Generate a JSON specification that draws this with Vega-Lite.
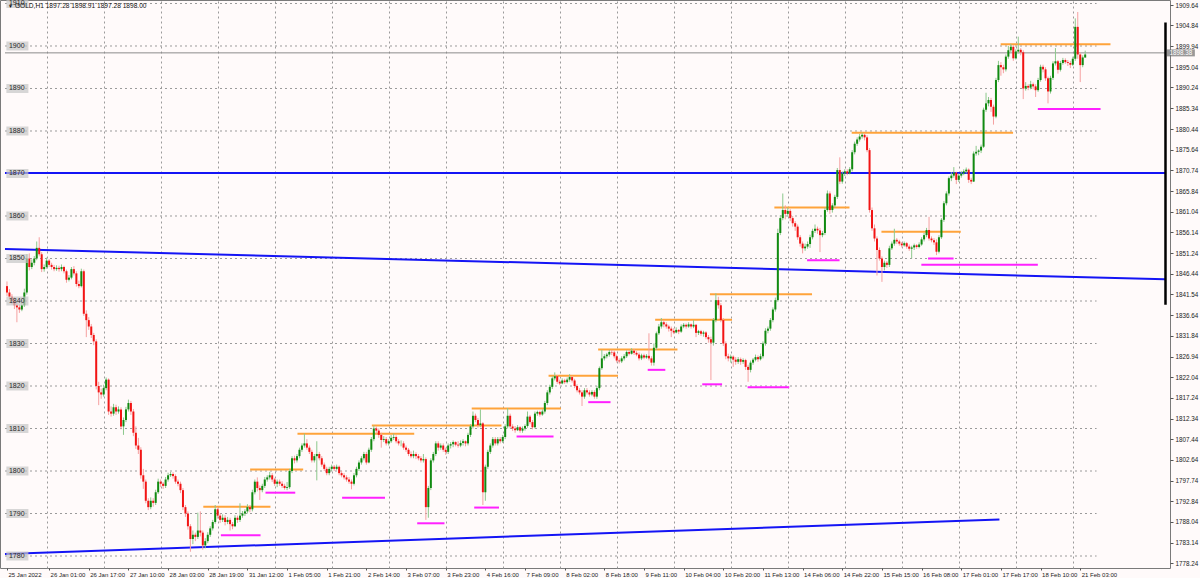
{
"$schema":"https://vega.github.io/schema/vega-lite/v6.json",
"width":1170,"height":568,
"autosize":{"type":"none"},
"padding":{"left":0,"top":0,"right":30,"bottom":10},
"background":"#fffafa",
"config":{"view":{"stroke":"#7a7a7a","strokeWidth":1},"font":"Liberation Sans"},
"resolve":{"axis":{"x":"independent","y":"independent"}},
"datasets":{
"levels":[{"v":1780},{"v":1790},{"v":1800},{"v":1810},{"v":1820},{"v":1830},{"v":1840},{"v":1850},{"v":1860},{"v":1870},{"v":1880},{"v":1890},{"v":1900},{"v":1910}],
"lines":[{"x1":-0.8,"y1":1852.25,"x2":467.2,"y2":1845.1},{"x1":-0.8,"y1":1780.45,"x2":400.4,"y2":1788.6},{"x1":-0.8,"y1":1870.1,"x2":467.2,"y2":1870.1}],
"segs":[
{"k":"res","x1":79.2,"x2":106.3,"p":1791.6},{"k":"res","x1":98.1,"x2":119.5,"p":1800.35},{"k":"res","x1":117.2,"x2":164.3,"p":1808.75},{"k":"res","x1":147.2,"x2":199.5,"p":1810.7},{"k":"res","x1":187.5,"x2":223.5,"p":1814.7},{"k":"res","x1":218.5,"x2":246.5,"p":1822.4},{"k":"res","x1":238.5,"x2":270.5,"p":1828.6},{"k":"res","x1":261.5,"x2":292.5,"p":1835.6},{"k":"res","x1":283.6,"x2":324.8,"p":1841.6},{"k":"res","x1":309.6,"x2":339.9,"p":1862.0},{"k":"res","x1":340.8,"x2":405.9,"p":1879.6},{"k":"res","x1":352.8,"x2":384.8,"p":1856.3},{"k":"res","x1":400.9,"x2":445.2,"p":1900.4},
{"k":"sup","x1":86.3,"x2":102.3,"p":1784.9},{"k":"sup","x1":104.3,"x2":116.3,"p":1794.9},{"k":"sup","x1":135.2,"x2":152.5,"p":1793.7},{"k":"sup","x1":165.5,"x2":176.5,"p":1787.7},{"k":"sup","x1":188.5,"x2":198.5,"p":1791.4},{"k":"sup","x1":205.6,"x2":220.5,"p":1808.1},{"k":"sup","x1":234.5,"x2":243.5,"p":1816.2},{"k":"sup","x1":258.5,"x2":265.6,"p":1823.8},{"k":"sup","x1":280.5,"x2":288.5,"p":1820.4},{"k":"sup","x1":298.8,"x2":315.6,"p":1819.7},{"k":"sup","x1":322.8,"x2":335.9,"p":1849.6},{"k":"sup","x1":371.6,"x2":381.9,"p":1850.0},{"k":"sup","x1":368.9,"x2":415.9,"p":1848.5},{"k":"sup","x1":415.9,"x2":441.2,"p":1885.2}],
"bars":[
{"i":0,"o":1843.5,"h":1844.6,"l":1841.2,"c":1842},{"i":1,"o":1842,"h":1842.8,"l":1840.5,"c":1841},{"i":2,"o":1841,"h":1841.6,"l":1839.2,"c":1840},{"i":3,"o":1840,"h":1840.9,"l":1838.1,"c":1839},{"i":4,"o":1839,"h":1839.8,"l":1835,"c":1838.5},{"i":5,"o":1838.5,"h":1839.2,"l":1837.2,"c":1838},{"i":6,"o":1838,"h":1840.2,"l":1837.6,"c":1839},{"i":7,"o":1839,"h":1842.9,"l":1838.6,"c":1842},{"i":8,"o":1842,"h":1851,"l":1841.5,"c":1850},{"i":9,"o":1850,"h":1851.2,"l":1847.2,"c":1848},
{"i":10,"o":1848,"h":1849.8,"l":1847.5,"c":1849},{"i":11,"o":1849,"h":1850.6,"l":1848.4,"c":1850},{"i":12,"o":1850,"h":1854,"l":1849.6,"c":1852.5},{"i":13,"o":1852.5,"h":1855,"l":1850.5,"c":1851},{"i":14,"o":1851,"h":1851.5,"l":1846.8,"c":1847.5},{"i":15,"o":1847.5,"h":1848.6,"l":1846.9,"c":1848},{"i":16,"o":1848,"h":1850.2,"l":1847.6,"c":1849.5},{"i":17,"o":1849.5,"h":1849.9,"l":1848,"c":1848.5},{"i":18,"o":1848.5,"h":1849,"l":1847.4,"c":1848},{"i":19,"o":1848,"h":1848.5,"l":1847,"c":1847.5},
{"i":20,"o":1847.5,"h":1848.4,"l":1847.1,"c":1847.8},{"i":21,"o":1847.8,"h":1848.3,"l":1846.9,"c":1847.5},{"i":22,"o":1847.5,"h":1848.6,"l":1847,"c":1848},{"i":23,"o":1848,"h":1848.3,"l":1846.5,"c":1847},{"i":24,"o":1847,"h":1847.4,"l":1844.3,"c":1845},{"i":25,"o":1845,"h":1846.1,"l":1844.6,"c":1845.5},{"i":26,"o":1845.5,"h":1848,"l":1845.1,"c":1847.5},{"i":27,"o":1847.5,"h":1848.2,"l":1846,"c":1846.5},{"i":28,"o":1846.5,"h":1847,"l":1843.4,"c":1844},{"i":29,"o":1844,"h":1844.8,"l":1843,"c":1843.5},
{"i":30,"o":1843.5,"h":1847.6,"l":1843.2,"c":1847},{"i":31,"o":1847,"h":1847.4,"l":1836.5,"c":1837},{"i":32,"o":1837,"h":1837.8,"l":1831.5,"c":1835.5},{"i":33,"o":1835.5,"h":1836.2,"l":1833.2,"c":1834},{"i":34,"o":1834,"h":1834.6,"l":1831.3,"c":1832},{"i":35,"o":1832,"h":1832.5,"l":1829.6,"c":1830.5},{"i":36,"o":1830.5,"h":1831,"l":1819.2,"c":1820},{"i":37,"o":1820,"h":1821,"l":1815.5,"c":1818.5},{"i":38,"o":1818.5,"h":1819.4,"l":1817,"c":1818},{"i":39,"o":1818,"h":1820.3,"l":1817.5,"c":1819.5},
{"i":40,"o":1819.5,"h":1822,"l":1819,"c":1821.5},{"i":41,"o":1821.5,"h":1821.8,"l":1813.2,"c":1814},{"i":42,"o":1814,"h":1815.2,"l":1812.8,"c":1813.5},{"i":43,"o":1813.5,"h":1815.8,"l":1813,"c":1815},{"i":44,"o":1815,"h":1815.6,"l":1813.2,"c":1814},{"i":45,"o":1814,"h":1815.2,"l":1813.5,"c":1814.5},{"i":46,"o":1814.5,"h":1815,"l":1809.8,"c":1810.5},{"i":47,"o":1810.5,"h":1812.6,"l":1808.5,"c":1812},{"i":48,"o":1812,"h":1815.1,"l":1811.5,"c":1814.5},{"i":49,"o":1814.5,"h":1816.8,"l":1814,"c":1816},
{"i":50,"o":1816,"h":1816.5,"l":1813.2,"c":1814},{"i":51,"o":1814,"h":1814.6,"l":1808.2,"c":1809},{"i":52,"o":1809,"h":1810.5,"l":1805.2,"c":1806},{"i":53,"o":1806,"h":1807.8,"l":1804,"c":1805},{"i":54,"o":1805,"h":1805.6,"l":1798.2,"c":1799},{"i":55,"o":1799,"h":1800.5,"l":1795.8,"c":1797.5},{"i":56,"o":1797.5,"h":1798,"l":1792.4,"c":1793},{"i":57,"o":1793,"h":1793.6,"l":1790.8,"c":1791.5},{"i":58,"o":1791.5,"h":1793.8,"l":1791,"c":1793},{"i":59,"o":1793,"h":1793.6,"l":1791.6,"c":1792.5},
{"i":60,"o":1792.5,"h":1795.6,"l":1792,"c":1795},{"i":61,"o":1795,"h":1798.2,"l":1794.6,"c":1797.5},{"i":62,"o":1797.5,"h":1798,"l":1796.2,"c":1797},{"i":63,"o":1797,"h":1797.4,"l":1795.8,"c":1796.5},{"i":64,"o":1796.5,"h":1798.6,"l":1796,"c":1798},{"i":65,"o":1798,"h":1799.6,"l":1797.5,"c":1799},{"i":66,"o":1799,"h":1799.8,"l":1798.6,"c":1799.3},{"i":67,"o":1799.3,"h":1799.7,"l":1798.2,"c":1798.8},{"i":68,"o":1798.8,"h":1799.2,"l":1797,"c":1797.5},{"i":69,"o":1797.5,"h":1798,"l":1796.4,"c":1797},
{"i":70,"o":1797,"h":1797.5,"l":1794.8,"c":1795.5},{"i":71,"o":1795.5,"h":1796,"l":1790.8,"c":1791.5},{"i":72,"o":1791.5,"h":1792,"l":1789.2,"c":1790},{"i":73,"o":1790,"h":1790.5,"l":1786.2,"c":1787},{"i":74,"o":1787,"h":1787.5,"l":1781,"c":1784},{"i":75,"o":1784,"h":1786,"l":1782.8,"c":1785},{"i":76,"o":1785,"h":1785.5,"l":1783.5,"c":1784.5},{"i":77,"o":1784.5,"h":1790.2,"l":1784,"c":1786},{"i":78,"o":1786,"h":1790.5,"l":1784.6,"c":1785.5},{"i":79,"o":1785.5,"h":1786,"l":1781.5,"c":1782.5},
{"i":80,"o":1782.5,"h":1784.2,"l":1781.8,"c":1783.5},{"i":81,"o":1783.5,"h":1785.6,"l":1783,"c":1785},{"i":82,"o":1785,"h":1787,"l":1784.5,"c":1786.5},{"i":83,"o":1786.5,"h":1788.5,"l":1786,"c":1788},{"i":84,"o":1788,"h":1792,"l":1787.6,"c":1791},{"i":85,"o":1791,"h":1791.5,"l":1788.8,"c":1789.5},{"i":86,"o":1789.5,"h":1790,"l":1787.8,"c":1788.5},{"i":87,"o":1788.5,"h":1789.8,"l":1788,"c":1789},{"i":88,"o":1789,"h":1789.6,"l":1787.2,"c":1788},{"i":89,"o":1788,"h":1789.2,"l":1787.5,"c":1788.5},
{"i":90,"o":1788.5,"h":1789,"l":1786,"c":1787.5},{"i":91,"o":1787.5,"h":1788,"l":1786.3,"c":1787},{"i":92,"o":1787,"h":1789.6,"l":1786.8,"c":1789},{"i":93,"o":1789,"h":1789.5,"l":1787.8,"c":1788.5},{"i":94,"o":1788.5,"h":1792.4,"l":1788,"c":1789.5},{"i":95,"o":1789.5,"h":1790.6,"l":1789,"c":1790},{"i":96,"o":1790,"h":1791,"l":1789.4,"c":1790.5},{"i":97,"o":1790.5,"h":1792.2,"l":1790,"c":1791.5},{"i":98,"o":1791.5,"h":1792,"l":1790.3,"c":1791},{"i":99,"o":1791,"h":1795.6,"l":1790.5,"c":1795},
{"i":100,"o":1795,"h":1798,"l":1794.5,"c":1797.5},{"i":101,"o":1797.5,"h":1798.5,"l":1795.2,"c":1796},{"i":102,"o":1796,"h":1796.6,"l":1793.2,"c":1795.5},{"i":103,"o":1795.5,"h":1797,"l":1795,"c":1796.5},{"i":104,"o":1796.5,"h":1798.6,"l":1796,"c":1798},{"i":105,"o":1798,"h":1799,"l":1797.5,"c":1798.5},{"i":106,"o":1798.5,"h":1799.8,"l":1798,"c":1799},{"i":107,"o":1799,"h":1799.5,"l":1797.4,"c":1798},{"i":108,"o":1798,"h":1798.4,"l":1796.5,"c":1797},{"i":109,"o":1797,"h":1798,"l":1796.2,"c":1797.5},
{"i":110,"o":1797.5,"h":1798,"l":1796.5,"c":1797},{"i":111,"o":1797,"h":1797.6,"l":1796,"c":1796.5},{"i":112,"o":1796.5,"h":1797,"l":1795.6,"c":1796},{"i":113,"o":1796,"h":1797.4,"l":1795.5,"c":1796.2},{"i":114,"o":1796.2,"h":1800.5,"l":1795.8,"c":1800},{"i":115,"o":1800,"h":1803.5,"l":1799.5,"c":1803},{"i":116,"o":1803,"h":1803.6,"l":1801.8,"c":1802.5},{"i":117,"o":1802.5,"h":1804,"l":1802,"c":1803.5},{"i":118,"o":1803.5,"h":1805.5,"l":1803,"c":1805},{"i":119,"o":1805,"h":1806.5,"l":1804.5,"c":1806},
{"i":120,"o":1806,"h":1808.8,"l":1805.5,"c":1806.5},{"i":121,"o":1806.5,"h":1807.5,"l":1805,"c":1805.5},{"i":122,"o":1805.5,"h":1806,"l":1804,"c":1804.5},{"i":123,"o":1804.5,"h":1805,"l":1802,"c":1802.5},{"i":124,"o":1802.5,"h":1804,"l":1802,"c":1803.5},{"i":125,"o":1803.5,"h":1807,"l":1797.8,"c":1804},{"i":126,"o":1804,"h":1804.5,"l":1802.5,"c":1803},{"i":127,"o":1803,"h":1803.5,"l":1801,"c":1801.5},{"i":128,"o":1801.5,"h":1802,"l":1800,"c":1800.5},{"i":129,"o":1800.5,"h":1801,"l":1799,"c":1799.5},
{"i":130,"o":1799.5,"h":1801,"l":1799,"c":1800.5},{"i":131,"o":1800.5,"h":1801.5,"l":1800,"c":1801},{"i":132,"o":1801,"h":1801.4,"l":1800,"c":1800.5},{"i":133,"o":1800.5,"h":1801.5,"l":1800.2,"c":1801},{"i":134,"o":1801,"h":1801.3,"l":1799,"c":1799.5},{"i":135,"o":1799.5,"h":1800,"l":1798.5,"c":1799},{"i":136,"o":1799,"h":1799.5,"l":1798,"c":1798.5},{"i":137,"o":1798.5,"h":1799,"l":1797.5,"c":1798},{"i":138,"o":1798,"h":1798.6,"l":1797,"c":1797.5},{"i":139,"o":1797.5,"h":1798,"l":1795.7,"c":1797},
{"i":140,"o":1797,"h":1799.5,"l":1796.6,"c":1799},{"i":141,"o":1799,"h":1801,"l":1798.5,"c":1800.5},{"i":142,"o":1800.5,"h":1802.5,"l":1800,"c":1802},{"i":143,"o":1802,"h":1803.5,"l":1801.5,"c":1803},{"i":144,"o":1803,"h":1804.5,"l":1802.5,"c":1804},{"i":145,"o":1804,"h":1804.5,"l":1801.5,"c":1802},{"i":146,"o":1802,"h":1805.5,"l":1801.8,"c":1805},{"i":147,"o":1805,"h":1808,"l":1804.5,"c":1807.5},{"i":148,"o":1807.5,"h":1810.7,"l":1807,"c":1810},{"i":149,"o":1810,"h":1810.5,"l":1808.8,"c":1809.5},
{"i":150,"o":1809.5,"h":1810,"l":1807.8,"c":1808.5},{"i":151,"o":1808.5,"h":1809,"l":1805.5,"c":1807.3},{"i":152,"o":1807.3,"h":1808.2,"l":1806.8,"c":1807.5},{"i":153,"o":1807.5,"h":1808,"l":1806,"c":1806.5},{"i":154,"o":1806.5,"h":1807.5,"l":1806,"c":1807},{"i":155,"o":1807,"h":1808.5,"l":1806.6,"c":1807.8},{"i":156,"o":1807.8,"h":1808.8,"l":1807.3,"c":1808},{"i":157,"o":1808,"h":1808.4,"l":1806.5,"c":1807},{"i":158,"o":1807,"h":1807.5,"l":1806,"c":1806.5},{"i":159,"o":1806.5,"h":1807.2,"l":1805.8,"c":1806.5},
{"i":160,"o":1806.5,"h":1807,"l":1805,"c":1805.5},{"i":161,"o":1805.5,"h":1806,"l":1804.5,"c":1805},{"i":162,"o":1805,"h":1805.4,"l":1803.5,"c":1804},{"i":163,"o":1804,"h":1804.6,"l":1803,"c":1803.5},{"i":164,"o":1803.5,"h":1804.8,"l":1803,"c":1804},{"i":165,"o":1804,"h":1804.4,"l":1802.8,"c":1803.5},{"i":166,"o":1803.5,"h":1804,"l":1802.5,"c":1803},{"i":167,"o":1803,"h":1803.5,"l":1802,"c":1802.5},{"i":168,"o":1802.5,"h":1804,"l":1802,"c":1802.8},{"i":169,"o":1802.8,"h":1803.2,"l":1788.5,"c":1791.5},
{"i":170,"o":1791.5,"h":1796.5,"l":1789,"c":1796},{"i":171,"o":1796,"h":1803,"l":1795.5,"c":1802.5},{"i":172,"o":1802.5,"h":1804.5,"l":1802,"c":1804},{"i":173,"o":1804,"h":1807,"l":1803.5,"c":1806.5},{"i":174,"o":1806.5,"h":1807,"l":1804.8,"c":1805.5},{"i":175,"o":1805.5,"h":1806.5,"l":1805,"c":1806},{"i":176,"o":1806,"h":1806.5,"l":1804.5,"c":1805},{"i":177,"o":1805,"h":1805.5,"l":1803.8,"c":1804.5},{"i":178,"o":1804.5,"h":1806.5,"l":1804,"c":1806},{"i":179,"o":1806,"h":1806.8,"l":1805.3,"c":1806.3},
{"i":180,"o":1806.3,"h":1807.2,"l":1805.6,"c":1806.8},{"i":181,"o":1806.8,"h":1807,"l":1805.8,"c":1806.2},{"i":182,"o":1806.2,"h":1807,"l":1805.5,"c":1806},{"i":183,"o":1806,"h":1807.2,"l":1805.6,"c":1806.6},{"i":184,"o":1806.6,"h":1807.5,"l":1806,"c":1807},{"i":185,"o":1807,"h":1807.2,"l":1805.8,"c":1806.5},{"i":186,"o":1806.5,"h":1809,"l":1806,"c":1808.5},{"i":187,"o":1808.5,"h":1811,"l":1808,"c":1810.5},{"i":188,"o":1810.5,"h":1814,"l":1810,"c":1813},{"i":189,"o":1813,"h":1813.5,"l":1811.5,"c":1812},
{"i":190,"o":1812,"h":1812.5,"l":1810.2,"c":1810.8},{"i":191,"o":1810.8,"h":1814.5,"l":1810.3,"c":1811.2},{"i":192,"o":1811.2,"h":1811.5,"l":1792,"c":1795},{"i":193,"o":1795,"h":1801.5,"l":1793,"c":1801},{"i":194,"o":1801,"h":1805,"l":1800.5,"c":1804.5},{"i":195,"o":1804.5,"h":1806.5,"l":1804,"c":1806},{"i":196,"o":1806,"h":1808,"l":1805.5,"c":1807.5},{"i":197,"o":1807.5,"h":1808,"l":1806,"c":1806.5},{"i":198,"o":1806.5,"h":1808,"l":1806,"c":1807.5},{"i":199,"o":1807.5,"h":1808,"l":1806.5,"c":1807},
{"i":200,"o":1807,"h":1808.5,"l":1806.6,"c":1808},{"i":201,"o":1808,"h":1811,"l":1807.5,"c":1810.5},{"i":202,"o":1810.5,"h":1814.8,"l":1810,"c":1813},{"i":203,"o":1813,"h":1813.5,"l":1810,"c":1810.5},{"i":204,"o":1810.5,"h":1811,"l":1809.4,"c":1810},{"i":205,"o":1810,"h":1810.6,"l":1809,"c":1809.6},{"i":206,"o":1809.6,"h":1810.8,"l":1809.4,"c":1810.3},{"i":207,"o":1810.3,"h":1810.6,"l":1809,"c":1809.5},{"i":208,"o":1809.5,"h":1810.5,"l":1809,"c":1810},{"i":209,"o":1810,"h":1811,"l":1809.5,"c":1810.6},
{"i":210,"o":1810.6,"h":1814,"l":1810.2,"c":1812.8},{"i":211,"o":1812.8,"h":1813.2,"l":1811,"c":1811.5},{"i":212,"o":1811.5,"h":1812,"l":1809.8,"c":1810.3},{"i":213,"o":1810.3,"h":1814,"l":1810,"c":1813.5},{"i":214,"o":1813.5,"h":1814.2,"l":1813,"c":1813.9},{"i":215,"o":1813.9,"h":1814.2,"l":1812.8,"c":1813.3},{"i":216,"o":1813.3,"h":1814.5,"l":1813,"c":1814},{"i":217,"o":1814,"h":1816.5,"l":1813.5,"c":1816},{"i":218,"o":1816,"h":1819,"l":1815.5,"c":1818.5},{"i":219,"o":1818.5,"h":1820.3,"l":1818,"c":1819.8},
{"i":220,"o":1819.8,"h":1822.3,"l":1819.3,"c":1821.8},{"i":221,"o":1821.8,"h":1823.2,"l":1821.3,"c":1822.3},{"i":222,"o":1822.3,"h":1822.6,"l":1820.5,"c":1821},{"i":223,"o":1821,"h":1821.5,"l":1820.2,"c":1820.6},{"i":224,"o":1820.6,"h":1821.8,"l":1820.4,"c":1821.3},{"i":225,"o":1821.3,"h":1821.7,"l":1820.5,"c":1820.9},{"i":226,"o":1820.9,"h":1822,"l":1820.6,"c":1821.5},{"i":227,"o":1821.5,"h":1822.8,"l":1821,"c":1822.1},{"i":228,"o":1822.1,"h":1822.4,"l":1820.8,"c":1821.3},{"i":229,"o":1821.3,"h":1821.7,"l":1819.5,"c":1820},
{"i":230,"o":1820,"h":1820.4,"l":1818.5,"c":1819},{"i":231,"o":1819,"h":1819.5,"l":1818,"c":1818.5},{"i":232,"o":1818.5,"h":1819,"l":1815.3,"c":1817.5},{"i":233,"o":1817.5,"h":1819.5,"l":1817,"c":1819},{"i":234,"o":1819,"h":1819.5,"l":1818,"c":1818.5},{"i":235,"o":1818.5,"h":1819,"l":1817.5,"c":1818},{"i":236,"o":1818,"h":1819,"l":1817.6,"c":1818.6},{"i":237,"o":1818.6,"h":1819,"l":1817,"c":1817.5},{"i":238,"o":1817.5,"h":1820,"l":1817,"c":1819.5},{"i":239,"o":1819.5,"h":1824.6,"l":1819,"c":1824.2},
{"i":240,"o":1824.2,"h":1828.5,"l":1823.8,"c":1826.5},{"i":241,"o":1826.5,"h":1827.5,"l":1826,"c":1827},{"i":242,"o":1827,"h":1827.8,"l":1826.5,"c":1827.4},{"i":243,"o":1827.4,"h":1828.5,"l":1826.9,"c":1828},{"i":244,"o":1828,"h":1828.5,"l":1827.3,"c":1827.9},{"i":245,"o":1827.9,"h":1828.3,"l":1826.5,"c":1827},{"i":246,"o":1827,"h":1827.4,"l":1825.5,"c":1826},{"i":247,"o":1826,"h":1826.5,"l":1825.3,"c":1825.8},{"i":248,"o":1825.8,"h":1827,"l":1825.4,"c":1826.5},{"i":249,"o":1826.5,"h":1827.5,"l":1826,"c":1827},
{"i":250,"o":1827,"h":1828.4,"l":1826.6,"c":1828},{"i":251,"o":1828,"h":1828.5,"l":1827.2,"c":1827.6},{"i":252,"o":1827.6,"h":1828.9,"l":1827.4,"c":1828.3},{"i":253,"o":1828.3,"h":1828.7,"l":1827.3,"c":1827.8},{"i":254,"o":1827.8,"h":1828.2,"l":1827,"c":1827.4},{"i":255,"o":1827.4,"h":1827.9,"l":1826,"c":1826.5},{"i":256,"o":1826.5,"h":1827.6,"l":1826.1,"c":1827.2},{"i":257,"o":1827.2,"h":1827.6,"l":1826.3,"c":1826.7},{"i":258,"o":1826.7,"h":1827.5,"l":1826.4,"c":1827.1},{"i":259,"o":1827.1,"h":1832.4,"l":1826,"c":1826.5},
{"i":260,"o":1826.5,"h":1827,"l":1824.8,"c":1825.5},{"i":261,"o":1825.5,"h":1830,"l":1824.8,"c":1829},{"i":262,"o":1829,"h":1832.8,"l":1828.5,"c":1832.4},{"i":263,"o":1832.4,"h":1834.6,"l":1832,"c":1834},{"i":264,"o":1834,"h":1836,"l":1833.5,"c":1835},{"i":265,"o":1835,"h":1835.5,"l":1833.8,"c":1834.5},{"i":266,"o":1834.5,"h":1835,"l":1833.5,"c":1834},{"i":267,"o":1834,"h":1834.4,"l":1832.8,"c":1833.5},{"i":268,"o":1833.5,"h":1834,"l":1831.5,"c":1833},{"i":269,"o":1833,"h":1833.6,"l":1832.2,"c":1832.6},
{"i":270,"o":1832.6,"h":1833.8,"l":1832.4,"c":1833.2},{"i":271,"o":1833.2,"h":1833.4,"l":1832.2,"c":1832.8},{"i":272,"o":1832.8,"h":1834.5,"l":1832.5,"c":1834},{"i":273,"o":1834,"h":1834.8,"l":1833.6,"c":1834.4},{"i":274,"o":1834.4,"h":1834.7,"l":1833.5,"c":1834},{"i":275,"o":1834,"h":1835,"l":1833.7,"c":1834.5},{"i":276,"o":1834.5,"h":1834.7,"l":1833.5,"c":1834},{"i":277,"o":1834,"h":1835.5,"l":1833.6,"c":1834.4},{"i":278,"o":1834.4,"h":1834.6,"l":1831.5,"c":1832.5},{"i":279,"o":1832.5,"h":1833.2,"l":1832,"c":1832.9},
{"i":280,"o":1832.9,"h":1833.2,"l":1831.8,"c":1832.3},{"i":281,"o":1832.3,"h":1833,"l":1831.6,"c":1832.6},{"i":282,"o":1832.6,"h":1832.9,"l":1831,"c":1831.5},{"i":283,"o":1831.5,"h":1832,"l":1830.2,"c":1831},{"i":284,"o":1831,"h":1831.6,"l":1821.4,"c":1830.2},{"i":285,"o":1830.2,"h":1836,"l":1829.5,"c":1835.5},{"i":286,"o":1835.5,"h":1841.8,"l":1835,"c":1840.2},{"i":287,"o":1840.2,"h":1841,"l":1838.2,"c":1839},{"i":288,"o":1839,"h":1839.5,"l":1835,"c":1835.5},{"i":289,"o":1835.5,"h":1836,"l":1829.4,"c":1830},
{"i":290,"o":1830,"h":1830.5,"l":1826.3,"c":1827},{"i":291,"o":1827,"h":1827.6,"l":1825.8,"c":1826.5},{"i":292,"o":1826.5,"h":1827.4,"l":1825.5,"c":1826.9},{"i":293,"o":1826.9,"h":1827.2,"l":1824.5,"c":1826.2},{"i":294,"o":1826.2,"h":1826.8,"l":1825,"c":1825.7},{"i":295,"o":1825.7,"h":1826.8,"l":1825.2,"c":1826.3},{"i":296,"o":1826.3,"h":1826.7,"l":1825,"c":1825.7},{"i":297,"o":1825.7,"h":1826.5,"l":1825.2,"c":1826.1},{"i":298,"o":1826.1,"h":1826.4,"l":1823.8,"c":1824.5},{"i":299,"o":1824.5,"h":1825,"l":1821,"c":1823.8},
{"i":300,"o":1823.8,"h":1826,"l":1823.2,"c":1825.5},{"i":301,"o":1825.5,"h":1826.6,"l":1825,"c":1826.2},{"i":302,"o":1826.2,"h":1827.4,"l":1825.8,"c":1826.8},{"i":303,"o":1826.8,"h":1827.2,"l":1825.7,"c":1826.3},{"i":304,"o":1826.3,"h":1827.6,"l":1826,"c":1827},{"i":305,"o":1827,"h":1830.5,"l":1826.5,"c":1830},{"i":306,"o":1830,"h":1833.6,"l":1829.5,"c":1833},{"i":307,"o":1833,"h":1834,"l":1832.4,"c":1833.5},{"i":308,"o":1833.5,"h":1836,"l":1833,"c":1835.5},{"i":309,"o":1835.5,"h":1838.5,"l":1835,"c":1838},
{"i":310,"o":1838,"h":1840.8,"l":1837.5,"c":1840.2},{"i":311,"o":1840.2,"h":1857,"l":1839.8,"c":1856},{"i":312,"o":1856,"h":1860.2,"l":1855.5,"c":1859.5},{"i":313,"o":1859.5,"h":1865.3,"l":1859,"c":1861.4},{"i":314,"o":1861.4,"h":1862.5,"l":1859.2,"c":1860.5},{"i":315,"o":1860.5,"h":1862,"l":1859.8,"c":1861.2},{"i":316,"o":1861.2,"h":1861.6,"l":1858.8,"c":1859.5},{"i":317,"o":1859.5,"h":1860,"l":1857.5,"c":1858.3},{"i":318,"o":1858.3,"h":1858.8,"l":1856.5,"c":1857.5},{"i":319,"o":1857.5,"h":1858,"l":1854.4,"c":1855},
{"i":320,"o":1855,"h":1855.5,"l":1852.8,"c":1853.5},{"i":321,"o":1853.5,"h":1854,"l":1851.2,"c":1852.4},{"i":322,"o":1852.4,"h":1853.5,"l":1851.8,"c":1852.8},{"i":323,"o":1852.8,"h":1854,"l":1852.3,"c":1853.4},{"i":324,"o":1853.4,"h":1855.6,"l":1852.5,"c":1855},{"i":325,"o":1855,"h":1857,"l":1854.5,"c":1856.5},{"i":326,"o":1856.5,"h":1858,"l":1856,"c":1857},{"i":327,"o":1857,"h":1857.5,"l":1855.8,"c":1856.6},{"i":328,"o":1856.6,"h":1857.2,"l":1851.5,"c":1855.5},{"i":329,"o":1855.5,"h":1856.5,"l":1855,"c":1856},
{"i":330,"o":1856,"h":1862,"l":1855.5,"c":1861.4},{"i":331,"o":1861.4,"h":1866,"l":1861,"c":1865.3},{"i":332,"o":1865.3,"h":1865.8,"l":1860.5,"c":1861.4},{"i":333,"o":1861.4,"h":1863,"l":1860.8,"c":1862.5},{"i":334,"o":1862.5,"h":1865,"l":1862,"c":1864.5},{"i":335,"o":1864.5,"h":1871.3,"l":1864,"c":1870.8},{"i":336,"o":1870.8,"h":1873.8,"l":1867.5,"c":1868.1},{"i":337,"o":1868.1,"h":1870.5,"l":1867.6,"c":1870},{"i":338,"o":1870,"h":1871,"l":1869.4,"c":1870.5},{"i":339,"o":1870.5,"h":1871,"l":1869.6,"c":1870},
{"i":340,"o":1870,"h":1871.5,"l":1869.8,"c":1871},{"i":341,"o":1871,"h":1875.5,"l":1870.5,"c":1875},{"i":342,"o":1875,"h":1877.5,"l":1874.5,"c":1877},{"i":343,"o":1877,"h":1878.5,"l":1876.5,"c":1878},{"i":344,"o":1878,"h":1879.3,"l":1877.5,"c":1878.7},{"i":345,"o":1878.7,"h":1879.6,"l":1878.2,"c":1879.1},{"i":346,"o":1879.1,"h":1879.4,"l":1877.8,"c":1878.5},{"i":347,"o":1878.5,"h":1879,"l":1875,"c":1875.5},{"i":348,"o":1875.5,"h":1876,"l":1860.8,"c":1861.4},{"i":349,"o":1861.4,"h":1862,"l":1856.5,"c":1857.1},
{"i":350,"o":1857.1,"h":1858,"l":1854,"c":1854.7},{"i":351,"o":1854.7,"h":1855.2,"l":1846,"c":1852},{"i":352,"o":1852,"h":1852.6,"l":1849.5,"c":1850},{"i":353,"o":1850,"h":1850.5,"l":1844.5,"c":1848},{"i":354,"o":1848,"h":1849.5,"l":1847.2,"c":1849},{"i":355,"o":1849,"h":1849.4,"l":1847.8,"c":1848.5},{"i":356,"o":1848.5,"h":1853,"l":1848,"c":1852.4},{"i":357,"o":1852.4,"h":1854,"l":1852,"c":1853.5},{"i":358,"o":1853.5,"h":1857,"l":1853,"c":1854.4},{"i":359,"o":1854.4,"h":1854.8,"l":1853.4,"c":1854},
{"i":360,"o":1854,"h":1854.4,"l":1853,"c":1853.5},{"i":361,"o":1853.5,"h":1853.9,"l":1852.6,"c":1853.1},{"i":362,"o":1853.1,"h":1854,"l":1852.8,"c":1853.6},{"i":363,"o":1853.6,"h":1853.9,"l":1852.3,"c":1852.8},{"i":364,"o":1852.8,"h":1853.3,"l":1851.8,"c":1852.3},{"i":365,"o":1852.3,"h":1853,"l":1850,"c":1852.6},{"i":366,"o":1852.6,"h":1853.5,"l":1852,"c":1853.1},{"i":367,"o":1853.1,"h":1853.4,"l":1852.3,"c":1852.7},{"i":368,"o":1852.7,"h":1853.8,"l":1852.4,"c":1853.3},{"i":369,"o":1853.3,"h":1855,"l":1853,"c":1854.5},
{"i":370,"o":1854.5,"h":1856,"l":1854,"c":1855.5},{"i":371,"o":1855.5,"h":1857.2,"l":1855,"c":1856.7},{"i":372,"o":1856.7,"h":1859.8,"l":1854.2,"c":1854.7},{"i":373,"o":1854.7,"h":1855.2,"l":1853.8,"c":1854.3},{"i":374,"o":1854.3,"h":1854.8,"l":1853.2,"c":1853.8},{"i":375,"o":1853.8,"h":1854.5,"l":1850.8,"c":1851.6},{"i":376,"o":1851.6,"h":1855.5,"l":1851.2,"c":1855},{"i":377,"o":1855,"h":1859.5,"l":1854.6,"c":1859.1},{"i":378,"o":1859.1,"h":1863.5,"l":1858.6,"c":1863},{"i":379,"o":1863,"h":1865.8,"l":1862.5,"c":1865.3},
{"i":380,"o":1865.3,"h":1869.3,"l":1864.8,"c":1868.9},{"i":381,"o":1868.9,"h":1870.3,"l":1868.2,"c":1869.5},{"i":382,"o":1869.5,"h":1871.5,"l":1869,"c":1870.2},{"i":383,"o":1870.2,"h":1870.4,"l":1867.5,"c":1868.5},{"i":384,"o":1868.5,"h":1870,"l":1868,"c":1869.5},{"i":385,"o":1869.5,"h":1870.6,"l":1869,"c":1870},{"i":386,"o":1870,"h":1871,"l":1869.6,"c":1870.5},{"i":387,"o":1870.5,"h":1871.4,"l":1870,"c":1870.9},{"i":388,"o":1870.9,"h":1871.2,"l":1867.8,"c":1868.5},{"i":389,"o":1868.5,"h":1869,"l":1867.5,"c":1868.1},
{"i":390,"o":1868.1,"h":1875.2,"l":1868,"c":1874.7},{"i":391,"o":1874.7,"h":1876.5,"l":1874.2,"c":1875.1},{"i":392,"o":1875.1,"h":1875.7,"l":1874.3,"c":1875.4},{"i":393,"o":1875.4,"h":1876.8,"l":1874.8,"c":1876.3},{"i":394,"o":1876.3,"h":1885.5,"l":1876,"c":1885},{"i":395,"o":1885,"h":1889,"l":1884.5,"c":1886.5},{"i":396,"o":1886.5,"h":1888,"l":1885.8,"c":1887.3},{"i":397,"o":1887.3,"h":1887.8,"l":1884.5,"c":1885.7},{"i":398,"o":1885.7,"h":1886.2,"l":1881.5,"c":1883.4},{"i":399,"o":1883.4,"h":1892.5,"l":1883,"c":1892},
{"i":400,"o":1892,"h":1896.5,"l":1891.5,"c":1895.5},{"i":401,"o":1895.5,"h":1896.2,"l":1893,"c":1895},{"i":402,"o":1895,"h":1895.6,"l":1893.6,"c":1894.5},{"i":403,"o":1894.5,"h":1898,"l":1894,"c":1897.5},{"i":404,"o":1897.5,"h":1900,"l":1897,"c":1899},{"i":405,"o":1899,"h":1900.5,"l":1898.5,"c":1899.8},{"i":406,"o":1899.8,"h":1900.2,"l":1896.5,"c":1897.1},{"i":407,"o":1897.1,"h":1899.2,"l":1896.8,"c":1898.7},{"i":408,"o":1898.7,"h":1902.2,"l":1898.2,"c":1899.1},{"i":409,"o":1899.1,"h":1899.5,"l":1897.8,"c":1898.5},
{"i":410,"o":1898.5,"h":1899,"l":1887.5,"c":1890},{"i":411,"o":1890,"h":1891.5,"l":1889.5,"c":1890.6},{"i":412,"o":1890.6,"h":1891,"l":1889.6,"c":1890.2},{"i":413,"o":1890.2,"h":1891.8,"l":1889.8,"c":1891},{"i":414,"o":1891,"h":1891.4,"l":1889.8,"c":1890.5},{"i":415,"o":1890.5,"h":1891,"l":1888,"c":1889.6},{"i":416,"o":1889.6,"h":1892.5,"l":1889.2,"c":1892},{"i":417,"o":1892,"h":1895.6,"l":1891.6,"c":1895.1},{"i":418,"o":1895.1,"h":1895.6,"l":1893.8,"c":1894.5},{"i":419,"o":1894.5,"h":1895,"l":1891.8,"c":1892.4},
{"i":420,"o":1892.4,"h":1892.8,"l":1886.5,"c":1889.3},{"i":421,"o":1889.3,"h":1893,"l":1888.8,"c":1892.5},{"i":422,"o":1892.5,"h":1896.4,"l":1892,"c":1895.9},{"i":423,"o":1895.9,"h":1899.5,"l":1895.4,"c":1896.4},{"i":424,"o":1896.4,"h":1896.7,"l":1893.5,"c":1894.4},{"i":425,"o":1894.4,"h":1896.5,"l":1894,"c":1896},{"i":426,"o":1896,"h":1897.2,"l":1895.6,"c":1896.7},{"i":427,"o":1896.7,"h":1897.1,"l":1895.8,"c":1896.2},{"i":428,"o":1896.2,"h":1896.7,"l":1895.3,"c":1896},{"i":429,"o":1896,"h":1896.5,"l":1894.8,"c":1895.6},
{"i":430,"o":1895.6,"h":1897.5,"l":1895.3,"c":1897},{"i":431,"o":1897,"h":1906.5,"l":1896.5,"c":1904.5},{"i":432,"o":1904.5,"h":1908,"l":1897,"c":1898},{"i":433,"o":1898,"h":1898.5,"l":1891.5,"c":1895.5},{"i":434,"o":1895.5,"h":1897.8,"l":1895,"c":1897.3},{"i":435,"o":1897.28,"h":1898.91,"l":1897.28,"c":1898}
]},
"layer":[
{"data":{"name":"levels"},
 "mark":{"type":"rule","color":"#9a9a9a","strokeWidth":1,"strokeDash":[2,3]},
 "encoding":{
  "x":{"datum":-0.8,"type":"quantitative","scale":{"domain":[-0.8,467.2],"nice":false,"zero":false},
   "axis":{"orient":"top","values":[16,39,62,85,108,131,154,177,200,223,246,269,292,315,338,361,384,407,430],"grid":true,"gridColor":"#9a9a9a","gridDash":[2,3],"gridWidth":1,"labels":false,"ticks":false,"domain":false,"title":null}},
  "x2":{"datum":439.6},
  "y":{"field":"v","type":"quantitative","scale":{"domain":[1777.18,1910.82],"nice":false,"zero":false},"axis":null}}},
{"data":{"name":"lines"},
 "mark":{"type":"rule","color":"#1414f5","strokeWidth":2},
 "encoding":{
  "x":{"field":"x1","type":"quantitative","axis":null},"x2":{"field":"x2"},
  "y":{"field":"y1","type":"quantitative","axis":null},"y2":{"field":"y2"}}},
{"data":{"values":[{"p":1898.38}]},
 "mark":{"type":"rule","color":"#8c8c8c","strokeWidth":1},
 "encoding":{"x":{"datum":-0.8,"type":"quantitative","axis":null},"x2":{"datum":467.2},"y":{"field":"p","type":"quantitative","axis":null}}},
{"data":{"name":"segs"},
 "mark":{"type":"rule","strokeWidth":2},
 "encoding":{
  "x":{"field":"x1","type":"quantitative","axis":null},"x2":{"field":"x2"},
  "y":{"field":"p","type":"quantitative","axis":null},
  "color":{"field":"k","type":"nominal","scale":{"domain":["res","sup"],"range":["#ffa33a","#ff20ff"]},"legend":null}}},
{"data":{"name":"bars"},
 "mark":{"type":"rule","strokeWidth":1},
 "encoding":{
  "x":{"field":"i","type":"quantitative","axis":{"orient":"bottom","values":[0,17,33,49,65,81,97,113,129,145,161,177,193,209,225,241,257,273,289,305,321,337,353,369,385,401,417,433],
   "labelExpr":"['25 Jan 2022','26 Jan 01:00','26 Jan 17:00','27 Jan 10:00','28 Jan 03:00','28 Jan 19:00','31 Jan 12:00','1 Feb 05:00','1 Feb 21:00','2 Feb 14:00','3 Feb 07:00','3 Feb 23:00','4 Feb 16:00','7 Feb 09:00','8 Feb 02:00','8 Feb 18:00','9 Feb 11:00','10 Feb 04:00','10 Feb 20:00','11 Feb 13:00','14 Feb 06:00','14 Feb 22:00','15 Feb 15:00','16 Feb 08:00','17 Feb 01:00','17 Feb 17:00','18 Feb 10:00','21 Feb 03:00'][floor(datum.value/16)]",
   "labelAlign":"left","labelBaseline":"top","labelFontSize":6,"labelColor":"#1a1a1a","labelPadding":1,"labelOffset":1,"tickSize":2,"tickColor":"#555555","domain":false,"grid":false,"title":null,"labelOverlap":false,"labelFlush":false,"labelBound":false}},
  "y":{"field":"l","type":"quantitative","axis":{"orient":"right","values":[1909.64,1904.84,1899.94,1895.04,1890.24,1885.34,1880.44,1875.64,1870.74,1865.84,1861.04,1856.14,1851.24,1846.44,1841.54,1836.64,1831.84,1826.94,1822.04,1817.24,1812.34,1807.44,1802.64,1797.74,1792.84,1788.04,1783.14,1778.24],
   "format":".2f","labelAlign":"left","labelBaseline":"middle","labelFontSize":6.3,"labelColor":"#1a1a1a","labelPadding":2,"tickSize":3,"tickColor":"#555555","domain":false,"grid":false,"title":null,"labelOverlap":false,"labelFlush":false,"labelBound":false}},
  "y2":{"field":"h"},
  "color":{"condition":{"test":"datum.c >= datum.o","value":"#8cc88c"},"value":"#f5a0a0"}}},
{"data":{"name":"bars"},
 "mark":{"type":"bar","size":2},
 "encoding":{
  "x":{"field":"i","type":"quantitative","axis":null},
  "y":{"field":"o","type":"quantitative","axis":null},"y2":{"field":"c"},
  "color":{"condition":{"test":"datum.c >= datum.o","value":"#118a11"},"value":"#f21414"}}},
{"data":{"name":"levels"},
 "mark":{"type":"tick","orient":"horizontal","color":"#c6c6c6","size":22,"thickness":9},
 "encoding":{"x":{"datum":4.2,"type":"quantitative","axis":null},"y":{"field":"v","type":"quantitative","axis":null}}},
{"data":{"name":"levels"},
 "mark":{"type":"text","align":"left","baseline":"middle","fontSize":7,"color":"#2a2a2a"},
 "encoding":{"x":{"datum":0.8,"type":"quantitative","axis":null},"y":{"field":"v","type":"quantitative","axis":null},"text":{"field":"v","type":"quantitative","format":"d"}}},
{"data":{"values":[{"t":"GOLD,H1  1897.28 1898.91 1897.28 1898.00"}]},
 "mark":{"type":"text","align":"left","baseline":"middle","fontSize":6.6,"color":"#111111"},
 "encoding":{"x":{"datum":3.2,"type":"quantitative","axis":null},"y":{"datum":1909.4,"type":"quantitative","axis":null},"text":{"field":"t"}}},
{"data":{"values":[{"t":"▼"}]},
 "mark":{"type":"text","align":"left","baseline":"middle","fontSize":5,"color":"#111111"},
 "encoding":{"x":{"datum":0.4,"type":"quantitative","axis":null},"y":{"datum":1909.5,"type":"quantitative","axis":null},"text":{"field":"t"}}},
{"data":{"values":[{"p":1898.38}]},
 "mark":{"type":"tick","orient":"horizontal","color":"#6e6e6e","size":28,"thickness":7},
 "encoding":{"x":{"datum":473.6,"type":"quantitative","axis":null},"y":{"field":"p","type":"quantitative","axis":null}}},
{"data":{"values":[{"p":1898.38}]},
 "mark":{"type":"text","align":"center","baseline":"middle","fontSize":6.3,"color":"#ffffff"},
 "encoding":{"x":{"datum":473.6,"type":"quantitative","axis":null},"y":{"field":"p","type":"quantitative","axis":null},"text":{"field":"p","type":"quantitative","format":".2f"}}},
{"data":{"values":[{"a":1905.5,"b":1839.1}]},
 "mark":{"type":"rule","color":"#000000","strokeWidth":2.5},
 "encoding":{"x":{"datum":467.4,"type":"quantitative","axis":null},"y":{"field":"a","type":"quantitative","axis":null},"y2":{"field":"b"}}}
]
}
